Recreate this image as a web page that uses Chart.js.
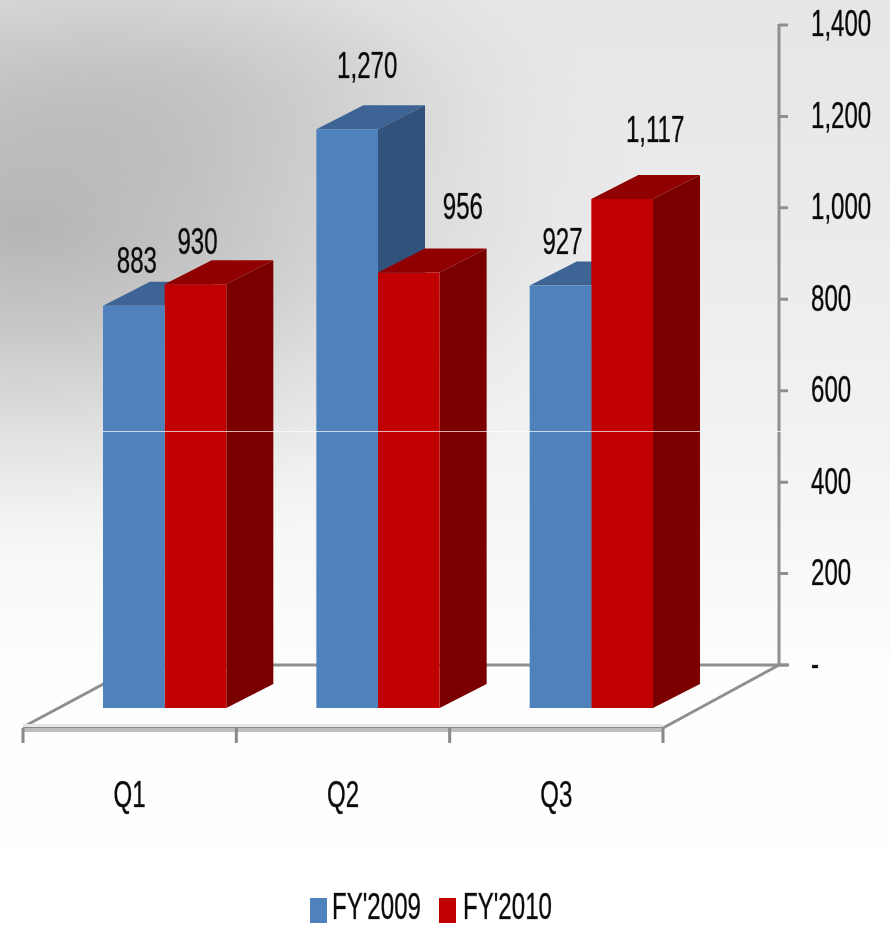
<!DOCTYPE html>
<html>
<head>
<meta charset="utf-8">
<title>FY'2009 vs FY'2010</title>
<script src="https://cdn.jsdelivr.net/npm/chart.js@4/dist/chart.umd.min.js"></script>
<style>
    html, body { margin: 0; padding: 0; background: #fff; }
    #wrap { width: 890px; height: 926px; }
</style>
</head>
<body>
<div id="wrap"><canvas id="chart" width="890" height="926"></canvas></div>
<script>
const quarters = ['Q1', 'Q2', 'Q3'];
const fy2009 = [883, 1270, 927];
const fy2010 = [930, 956, 1117];
const seriesNames = ["FY'2009", "FY'2010"];
const axisTicks = [0, 200, 400, 600, 800, 1000, 1200, 1400];

// face colours of the extruded columns
const blue = { front: '#4f81bd', top: '#3d6494', side: '#31527b' };
const red = { front: '#c00000', top: '#900000', side: '#7a0000' };

// depth of a column, and where the floor edges sit relative to the column plane
const DEPTH_X = 47, DEPTH_Y = -24;
const FLOOR_FRONT_X = -35, FLOOR_FRONT_Y = 20;
const FLOOR_BACK_X = 81;

// label nudges from the column's front top centre, per series and quarter
const labelNudge = [
    [[3, -43], [20, -62], [2, -42]],
    [[2, -41], [54, -64], [33, -67]]
];

const TEXT_FONT = '"Liberation Sans Narrow", "Liberation Sans", sans-serif';

// the labels are tall and condensed, so the canvas is stretched for them
function tallText(ctx, text, x, y, size, align) {
    ctx.save();
    ctx.font = size + 'px ' + TEXT_FONT;
    ctx.fillStyle = '#0a0a0a';
    ctx.strokeStyle = 'rgba(10,10,10,0.55)';
    ctx.lineWidth = 0.5;
    ctx.textAlign = align || 'center';
    ctx.textBaseline = 'middle';
    ctx.translate(x, y);
    ctx.scale(0.83, 1.3);
    ctx.fillText(text, 0, 0);
    ctx.strokeText(text, 0, 0);
    ctx.restore();
}

function poly(ctx, color, pts) {
    ctx.fillStyle = color;
    ctx.beginPath();
    pts.forEach((p, i) => i ? ctx.lineTo(p[0], p[1]) : ctx.moveTo(p[0], p[1]));
    ctx.closePath();
    ctx.fill();
}

function ellipseShade(ctx, cx, cy, rx, ry, alpha, w, h) {
    ctx.save();
    ctx.translate(cx, cy);
    ctx.scale(rx, ry);
    const g = ctx.createRadialGradient(0, 0, 0, 0, 0, 1);
    g.addColorStop(0, 'rgba(0,0,0,' + alpha + ')');
    g.addColorStop(0.3, 'rgba(0,0,0,' + alpha * 0.72 + ')');
    g.addColorStop(0.6, 'rgba(0,0,0,' + alpha * 0.32 + ')');
    g.addColorStop(0.85, 'rgba(0,0,0,' + alpha * 0.07 + ')');
    g.addColorStop(1, 'rgba(0,0,0,0)');
    ctx.fillStyle = g;
    ctx.fillRect(-cx / rx, -cy / ry, w / rx, h / ry);
    ctx.restore();
}

const backdrop = {
    id: 'backdrop',
    beforeDraw(chart) {
        const { ctx, width, height } = chart;
        const g = ctx.createLinearGradient(0, 0, 0, height);
        g.addColorStop(0, '#e6e6e6');
        g.addColorStop(0.25, '#ebebeb');
        g.addColorStop(0.47, '#f2f2f2');
        g.addColorStop(0.72, '#fdfdfd');
        g.addColorStop(1, '#ffffff');
        ctx.fillStyle = g;
        ctx.fillRect(0, 0, width, height);
        ellipseShade(ctx, 25, 225, 620, 340, 0.23, width, height);
        ellipseShade(ctx, 190, 75, 420, 150, 0.06, width, height);
    }
};

const floorAndAxis = {
    id: 'floorAndAxis',
    // floor goes under the columns
    beforeDatasetsDraw(chart) {
        const { ctx, chartArea, scales } = chart;
        const yBack = scales.yBack;
        const base = chartArea.bottom;
        const left = chartArea.left, right = chartArea.right;
        const fl = left + FLOOR_FRONT_X, fr = right + FLOOR_FRONT_X;
        const fy = base + FLOOR_FRONT_Y;
        const bx = right + FLOOR_BACK_X, by = yBack.getPixelForValue(0);
        const bl = fl + (bx - fr);

        ctx.save();
        ctx.strokeStyle = '#8f8f8f';
        ctx.lineWidth = 3;
        ctx.beginPath();
        ctx.moveTo(fl + 2, fy - 2);
        ctx.lineTo(bl, by);
        ctx.lineTo(bx + 10, by);
        ctx.moveTo(bx, by);
        ctx.lineTo(fr, fy);
        ctx.stroke();

        // vertical value axis on the back wall
        ctx.beginPath();
        ctx.moveTo(bx, by);
        ctx.lineTo(bx, yBack.getPixelForValue(axisTicks[axisTicks.length - 1]) - 1);
        axisTicks.forEach(v => {
            const y = yBack.getPixelForValue(v);
            ctx.moveTo(bx, y);
            ctx.lineTo(bx + 9, y);
        });
        ctx.stroke();

        // front lip of the floor
        ctx.fillStyle = '#e6e6e6';
        ctx.fillRect(fl, fy - 4, fr - fl, 3);
        ctx.fillStyle = '#bdbdbd';
        ctx.fillRect(fl, fy, fr - fl, 4);
        ctx.fillStyle = '#8a8a8a';
        ctx.fillRect(fl, fy - 1, fr - fl, 1);

        // category separators
        const step = (right - left) / quarters.length;
        for (let i = 0; i <= quarters.length; i++) {
            ctx.fillRect(fl + step * i - 1.5, fy, 3, 15);
        }
        ctx.restore();

        // tops and sides, earlier series first so the later one covers it
        [blue, red].forEach((c, d) => {
            chart.getDatasetMeta(d).data.forEach(bar => {
                const hw = bar.width / 2;
                const l = bar.x - hw, r = bar.x + hw;
                poly(ctx, c.top, [[l, bar.y], [r, bar.y], [r + DEPTH_X, bar.y + DEPTH_Y], [l + DEPTH_X, bar.y + DEPTH_Y]]);
                poly(ctx, c.side, [[r, bar.y], [r + DEPTH_X, bar.y + DEPTH_Y], [r + DEPTH_X, base + DEPTH_Y], [r, base]]);
            });
        });
    },
    afterDatasetsDraw(chart) {
        const { ctx, chartArea, scales } = chart;

        // hairline seam over the columns and the axis
        ctx.fillStyle = 'rgba(255,255,255,0.7)';
        ctx.fillRect(chartArea.left + 45, 431, 597, 1);
        ctx.fillRect(chartArea.right + 78, 431, 6, 1);

        [fy2009, fy2010].forEach((values, d) => {
            chart.getDatasetMeta(d).data.forEach((bar, i) => {
                const text = values[i].toLocaleString('en-US');
                tallText(ctx, text, bar.x + labelNudge[d][i][0], bar.y + labelNudge[d][i][1], 29);
            });
        });

        axisTicks.forEach(v => {
            const y = scales.yBack.getPixelForValue(v) + 1;
            tallText(ctx, v === 0 ? '-' : v.toLocaleString('en-US'), 811, y, 29, 'left');
        });

        quarters.forEach((q, i) => {
            tallText(ctx, q, scales.x.getPixelForValue(i) + FLOOR_FRONT_X, 797, 29);
        });

        // legend
        const swatchX = [310, 439], textX = [332, 463];
        [blue, red].forEach((c, d) => {
            ctx.fillStyle = c.front;
            ctx.fillRect(swatchX[d], 898, 17, 25);
            tallText(ctx, seriesNames[d], textX[d], 909, 29, 'left');
        });
    }
};

new Chart(document.getElementById('chart'), {
    type: 'bar',
    data: {
        labels: quarters,
        datasets: [
            { label: seriesNames[0], data: fy2009, backgroundColor: blue.front, yAxisID: 'y', borderWidth: 0 },
            { label: seriesNames[1], data: fy2010, backgroundColor: red.front, yAxisID: 'y', borderWidth: 0 }
        ]
    },
    plugins: [backdrop, floorAndAxis],
    options: {
        responsive: false,
        animation: false,
        events: [],
        layout: { padding: { left: 58, top: 25, right: 0, bottom: 0 } },
        plugins: { legend: { display: false }, tooltip: { enabled: false } },
        datasets: { bar: { categoryPercentage: 0.578, barPercentage: 1 } },
        scales: {
            x: {
                grid: { display: false },
                border: { display: false },
                ticks: { display: false },
                afterFit(s) { s.height = 218; }
            },
            // columns stand on this one
            y: {
                display: false,
                min: 0,
                max: 1499
            },
            // tick positions on the back wall, raised above the column base
            yBack: {
                position: 'right',
                min: -94,
                max: 1400,
                grid: { display: false },
                border: { display: false },
                ticks: { display: false },
                afterFit(s) { s.width = 192; }
            }
        }
    }
});
</script>
</body>
</html>
